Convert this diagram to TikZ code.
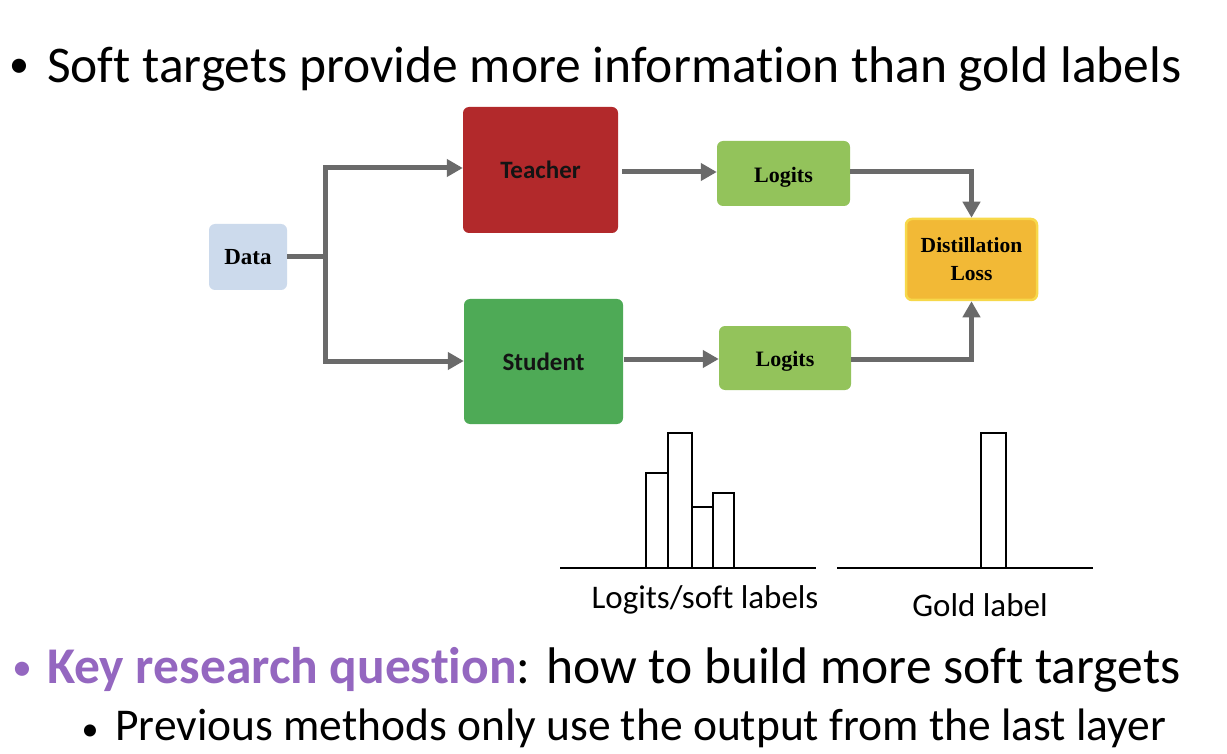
\documentclass[tikz,border=0pt]{standalone}
\usepackage{fontspec}
\setmainfont[Ligatures=NoCommon]{Carlito}
\newfontfamily\tnr{Liberation Serif}
\usetikzlibrary{arrows.meta,calc}
\definecolor{arrgray}{HTML}{6A6A6A}
\definecolor{datab}{HTML}{CCDAEC}
\definecolor{teachr}{HTML}{B2292B}
\definecolor{studg}{HTML}{4EAA56}
\definecolor{logg}{HTML}{93C35B}
\definecolor{distc}{HTML}{F2B936}
\definecolor{distb}{HTML}{F7D84A}
\definecolor{keyp}{HTML}{9467C0}
\tikzset{
  box/.style={rounded corners=6pt, draw=none, inner sep=0pt, align=center},
  serifbox/.style={box, font=\tnr\bfseries\fontsize{22}{28}\selectfont},
  sansbox/.style={box, font=\bfseries\fontsize{25}{28}\selectfont, text=black!92},
  conn/.style={draw=arrgray, line width=5pt},
  arr/.style={conn, -{Triangle[length=16pt,width=17pt]}},
  bar/.style={draw=black, line width=2.8pt, fill=white},
  axis/.style={draw=black, line width=2.8pt},
  txt/.style={inner sep=0pt, anchor=base west},
  bul/.style={inner sep=0pt, anchor=base},
}
\begin{document}
\begin{tikzpicture}[x=1pt,y=-1pt]
\useasboundingbox[fill=white] (0,0) rectangle (1227,754);
% title
\node[bul, font=\fontsize{40}{48}\selectfont] (b1) at (19,78) {•};
\node[txt, font=\fontsize{51.5}{60}\selectfont] (title) at (47,83) {Soft targets provide more information than gold labels};
% boxes
\node[serifbox, fill=datab, minimum width=78pt, minimum height=66pt, font=\tnr\bfseries\fontsize{23}{28}\selectfont] (data) at (248,257) {Data};
\node[sansbox, fill=teachr, minimum width=155pt, minimum height=126pt] (teacher) at (540.5,170) {Teacher};
\node[sansbox, fill=studg, minimum width=159pt, minimum height=125pt] (student) at (543.5,361.5) {Student};
\node[serifbox, fill=logg, minimum width=133pt, minimum height=65pt] (log1) at (783.5,173.5) {\raisebox{-4pt}[\height][\depth]{Logits}};
\node[serifbox, fill=logg, minimum width=132pt, minimum height=64pt] (log2) at (785,358) {\raisebox{-3pt}[\height][\depth]{Logits}};
\node[serifbox, fill=distc, draw=distb, line width=2.5pt, minimum width=131pt, minimum height=81pt, font=\tnr\bfseries\fontsize{21.5}{28}\selectfont] (dist) at (971.5,259.5) {Distillation\\Loss};
% connectors
\coordinate (j) at (325,257);
\draw[conn] (data.east) -- (j);
\draw[conn] ($(j)+(0,-91.5)$) -- ($(j)+(0,106.5)$);
\draw[arr] (j |- 0,168) -- (teacher.west |- 0,168);
\draw[arr] (j |- 0,361) -- (student.west |- 0,361);
\draw[arr, shorten <=4pt] (teacher.east |- 0,172) -- (log1.west |- 0,172);
\draw[arr, shorten <=1pt] (student.east |- 0,359) -- (log2.west |- 0,359);
\draw[arr] (log1.east |- 0,172) -| (dist.north);
\draw[arr] (log2.east |- 0,359) -| (dist.south);
% soft label histogram
\draw[axis] (560,568) -- (816,568);
\draw[bar] (646,568) rectangle (668,473);
\draw[bar] (668,568) rectangle (692,433);
\draw[bar] (692,568) rectangle (713,507);
\draw[bar] (713,568) rectangle (734,493);
\node[bul, font=\fontsize{33}{40}\selectfont] (softlbl) at (705,608) {Logits/soft labels};
% gold label
\draw[axis] (837,568) -- (1093,568);
\draw[bar] (981,568) rectangle (1006,433);
\node[bul, font=\fontsize{33}{40}\selectfont] (goldlbl) at (980,616) {Gold label};
% bottom text
\node[bul, font=\fontsize{40}{48}\selectfont, text=keyp] (b2) at (22,680) {•};
\node[txt, font=\fontsize{51.5}{60}\selectfont] (key) at (47,683) {\textcolor{keyp}{\bfseries Key research question}: how to build more soft targets};
\node[bul, font=\fontsize{34}{40}\selectfont] (b3) at (90,740) {•};
\node[txt, font=\fontsize{45.5}{50}\selectfont] (prev) at (115,740) {Previous methods only use the output from the last layer};
\end{tikzpicture}
\end{document}
